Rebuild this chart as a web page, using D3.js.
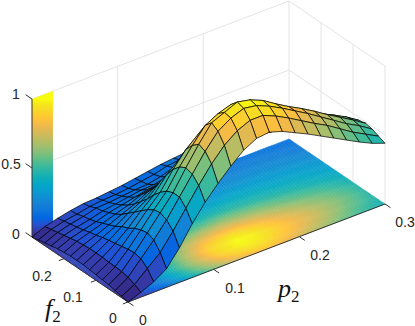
<!DOCTYPE html>
<html>
<head>
<meta charset="utf-8">
<script src="https://cdn.jsdelivr.net/npm/d3@7"></script>
<style>
    html, body { margin: 0; padding: 0; background: #fff; }
    svg { display: block; }
    .tick-label { font-family: "Liberation Sans", sans-serif; font-size: 14px; fill: #262626; text-anchor: middle; }
    .axis-label { font-family: "Liberation Serif", serif; font-style: italic; font-size: 26px; fill: #111; }
    .axis-label tspan { font-style: normal; font-size: 17px; }
</style>
</head>
<body>
<svg id="chart" width="415" height="326"></svg>
<script>
// grid of the mesh
const pValues = [0, 0.015, 0.03, 0.045, 0.06, 0.075, 0.09, 0.105, 0.12, 0.135, 0.15, 0.165, 0.18, 0.195, 0.21, 0.225, 0.24, 0.255, 0.27, 0.285, 0.3];
const fValues = [0, 0.02, 0.04, 0.06, 0.08, 0.1, 0.12, 0.14, 0.16, 0.18, 0.2, 0.22, 0.24, 0.26, 0.28, 0.3];

// heights, one row per p value, running along f
const heights = [
    [0, 0.01, 0.02, 0.03, 0.035, 0.04, 0.045, 0.05, 0.05, 0.05, 0.045, 0.04, 0.03, 0.02, 0.01, 0],
    [0.035, 0.06, 0.08, 0.09, 0.095, 0.095, 0.1, 0.1, 0.1, 0.095, 0.09, 0.08, 0.07, 0.06, 0.05, 0.04],
    [0.075, 0.14, 0.18, 0.19, 0.185, 0.175, 0.165, 0.155, 0.145, 0.13, 0.12, 0.105, 0.095, 0.085, 0.075, 0.065],
    [0.135, 0.22, 0.28, 0.3, 0.29, 0.27, 0.24, 0.22, 0.19, 0.17, 0.15, 0.13, 0.115, 0.105, 0.09, 0.085],
    [0.25, 0.34, 0.39, 0.41, 0.4, 0.37, 0.33, 0.29, 0.25, 0.21, 0.18, 0.16, 0.14, 0.13, 0.11, 0.1],
    [0.39, 0.47, 0.52, 0.52, 0.5, 0.46, 0.41, 0.35, 0.3, 0.25, 0.21, 0.18, 0.155, 0.135, 0.12, 0.105],
    [0.51, 0.6, 0.65, 0.665, 0.64, 0.59, 0.52, 0.44, 0.36, 0.3, 0.25, 0.2, 0.17, 0.145, 0.125, 0.115],
    [0.61, 0.72, 0.78, 0.8, 0.76, 0.7, 0.6, 0.5, 0.4, 0.33, 0.27, 0.22, 0.185, 0.155, 0.135, 0.125],
    [0.7, 0.82, 0.89, 0.92, 0.87, 0.78, 0.66, 0.54, 0.43, 0.35, 0.28, 0.23, 0.19, 0.16, 0.15, 0.14],
    [0.78, 0.89, 0.95, 0.96, 0.92, 0.82, 0.7, 0.57, 0.46, 0.38, 0.31, 0.26, 0.21, 0.18, 0.165, 0.155],
    [0.83, 0.93, 0.985, 1, 0.95, 0.84, 0.72, 0.59, 0.48, 0.4, 0.34, 0.28, 0.24, 0.21, 0.19, 0.17],
    [0.84, 0.93, 0.97, 0.98, 0.93, 0.83, 0.71, 0.6, 0.49, 0.41, 0.35, 0.29, 0.25, 0.22, 0.2, 0.18],
    [0.81, 0.89, 0.93, 0.94, 0.89, 0.8, 0.69, 0.58, 0.49, 0.42, 0.36, 0.31, 0.27, 0.24, 0.21, 0.19],
    [0.765, 0.84, 0.88, 0.88, 0.84, 0.76, 0.66, 0.565, 0.48, 0.42, 0.37, 0.32, 0.28, 0.25, 0.22, 0.2],
    [0.72, 0.785, 0.825, 0.825, 0.785, 0.71, 0.625, 0.545, 0.47, 0.415, 0.365, 0.32, 0.28, 0.25, 0.22, 0.195],
    [0.67, 0.73, 0.77, 0.775, 0.735, 0.67, 0.59, 0.52, 0.455, 0.405, 0.36, 0.32, 0.28, 0.25, 0.22, 0.19],
    [0.62, 0.68, 0.71, 0.72, 0.68, 0.63, 0.56, 0.5, 0.44, 0.39, 0.35, 0.32, 0.28, 0.25, 0.22, 0.19],
    [0.57, 0.62, 0.65, 0.66, 0.635, 0.59, 0.535, 0.475, 0.425, 0.385, 0.345, 0.31, 0.28, 0.25, 0.22, 0.19],
    [0.52, 0.56, 0.59, 0.605, 0.59, 0.555, 0.505, 0.45, 0.405, 0.37, 0.335, 0.305, 0.275, 0.245, 0.215, 0.19],
    [0.475, 0.51, 0.54, 0.55, 0.54, 0.51, 0.47, 0.425, 0.385, 0.35, 0.325, 0.295, 0.265, 0.235, 0.205, 0.185],
    [0.44, 0.46, 0.48, 0.49, 0.48, 0.46, 0.43, 0.4, 0.37, 0.34, 0.31, 0.28, 0.25, 0.22, 0.2, 0.18],
];

const pTicks = [0, 0.1, 0.2, 0.3];
const fTicks = [0, 0.1, 0.2];
const zTicks = [0, 0.5, 1];
const pGrid = [0.1, 0.2, 0.3];
const fGrid = [0, 0.1, 0.2];
const stripWidth = 0.0245; // p width of the colour strip on the back wall

const parula = [
    "#352a87", "#353dad", "#2053d4", "#0268e1", "#0d75dc", "#1481d6", "#108ed2", "#079ccf",
    "#06a7c6", "#0faeb9", "#25b5a9", "#42bb98", "#65be86", "#87bf77", "#a5be6b", "#c0bc60",
    "#d9ba56", "#f1b94a", "#ffc337", "#fad32a", "#f5e41d", "#f9fb0e",
];

const color = d3.scaleLinear()
    .domain(d3.range(parula.length).map((i) => i / (parula.length - 1)))
    .range(parula)
    .clamp(true);

// oblique view: each data axis gets its own screen offset
const pToX = d3.scaleLinear().domain([0, 0.3]).range([0, 257]);
const pToY = d3.scaleLinear().domain([0, 0.3]).range([0, -98]);
const fToX = d3.scaleLinear().domain([0, 0.3]).range([0, -96]);
const fToY = d3.scaleLinear().domain([0, 0.3]).range([0, -65]);
const zToY = d3.scaleLinear().domain([0, 1]).range([0, -138]);
const origin = [128, 302];

const project = (p, f, z) => [
    origin[0] + pToX(p) + fToX(f),
    origin[1] + pToY(p) + fToY(f) + zToY(z),
];
const polyPath = (pts) => "M" + pts.map((q) => q[0].toFixed(2) + "," + q[1].toFixed(2)).join("L") + "Z";

const svg = d3.select("#chart");

// --- walls ---
const walls = svg.append("g").attr("fill", "none").attr("stroke", "#e4e4e4").attr("stroke-width", 1);
const line3d = (sel, a, b) => sel.append("line")
    .attr("x1", project(...a)[0]).attr("y1", project(...a)[1])
    .attr("x2", project(...b)[0]).attr("y2", project(...b)[1]);

zTicks.slice(1).forEach((z) => {
    line3d(walls, [0, 0.3, z], [0.3, 0.3, z]);
    line3d(walls, [0.3, 0.3, z], [0.3, 0, z]);
});
pGrid.forEach((p) => line3d(walls, [p, 0.3, 0], [p, 0.3, 1]));
fGrid.forEach((f) => line3d(walls, [0.3, f, 0], [0.3, f, 1]));

// --- colour strip on the back wall ---
const defs = svg.append("defs");
const start = project(0, 0.3, 0);
const end = project(0, 0.3, 1);
const grad = defs.append("linearGradient")
    .attr("id", "strip")
    .attr("gradientUnits", "userSpaceOnUse")
    .attr("x1", start[0]).attr("y1", start[1])
    .attr("x2", end[0]).attr("y2", end[1]);
parula.forEach((c, i) => {
    grad.append("stop").attr("offset", i / (parula.length - 1)).attr("stop-color", c);
});
svg.append("path")
    .attr("d", polyPath([
        project(0, 0.3, 0),
        project(stripWidth, 0.3, 0),
        project(stripWidth, 0.3, 1),
        project(0, 0.3, 1),
    ]))
    .attr("fill", "url(#strip)");

// --- floor, shaded smoothly from the same heights ---
const floor = svg.append("g");
const steps = 5;
const floorCells = [];
for (let i = 0; i < pValues.length - 1; i++) {
    for (let j = 0; j < fValues.length - 1; j++) {
        for (let a = 0; a < steps; a++) {
            for (let b = 0; b < steps; b++) {
                const u = (a + 0.5) / steps;
                const v = (b + 0.5) / steps;
                const h = (1 - u) * (1 - v) * heights[i][j] + u * (1 - v) * heights[i + 1][j]
                    + (1 - u) * v * heights[i][j + 1] + u * v * heights[i + 1][j + 1];
                const p0 = pValues[i] + (pValues[i + 1] - pValues[i]) * a / steps;
                const p1 = pValues[i] + (pValues[i + 1] - pValues[i]) * (a + 1) / steps;
                const f0 = fValues[j] + (fValues[j + 1] - fValues[j]) * b / steps;
                const f1 = fValues[j] + (fValues[j + 1] - fValues[j]) * (b + 1) / steps;
                floorCells.push({ h, pts: [project(p0, f0, 0), project(p1, f0, 0), project(p1, f1, 0), project(p0, f1, 0)] });
            }
        }
    }
}
floor.selectAll("path").data(floorCells).enter().append("path")
    .attr("d", (d) => polyPath(d.pts))
    .attr("fill", (d) => color(d.h))
    .attr("stroke", (d) => color(d.h))
    .attr("stroke-width", 0.4);

// --- axes ---
const axes = svg.append("g").attr("stroke", "#333").attr("fill", "none").attr("stroke-width", 1);
line3d(axes, [0, 0.3, 0], [0, 0, 0]);
line3d(axes, [0, 0, 0], [0.3, 0, 0]);
line3d(axes, [0, 0.3, 0], [0, 0.3, 1]);
pTicks.forEach((p) => line3d(axes, [p, 0, 0], [p, -0.017, 0]));
fTicks.forEach((f) => line3d(axes, [0, f, 0], [-0.006, f, 0]));
zTicks.forEach((z) => line3d(axes, [0, 0.3, z], [0, 0.32, z]));

// --- surface, back to front ---
const surface = svg.append("g");
const cells = [];
for (let j = fValues.length - 2; j >= 0; j--) {
    for (let i = pValues.length - 2; i >= 0; i--) {
        cells.push({
            h: heights[i][j],
            pts: [
                project(pValues[i], fValues[j], heights[i][j]),
                project(pValues[i + 1], fValues[j], heights[i + 1][j]),
                project(pValues[i + 1], fValues[j + 1], heights[i + 1][j + 1]),
                project(pValues[i], fValues[j + 1], heights[i][j + 1]),
            ],
        });
    }
}
surface.selectAll("path").data(cells).enter().append("path")
    .attr("d", (d) => polyPath(d.pts))
    .attr("fill", (d) => color(d.h))
    .attr("stroke", "#000")
    .attr("stroke-width", 0.7)
    .attr("stroke-linejoin", "round");

// --- labels ---
const labels = svg.append("g");
const label = (x, y, t) => labels.append("text").attr("class", "tick-label").attr("x", x).attr("y", y).text(t);
const pLabelPos = [[143, 324.5], [235, 293], [320, 260], [405, 227]];
const fLabelPos = [[113, 323], [73, 302], [42, 281]];
const zLabelPos = [[16, 239], [11, 169], [16, 99]];
pTicks.forEach((t, i) => label(pLabelPos[i][0], pLabelPos[i][1], String(t)));
fTicks.forEach((t, i) => label(fLabelPos[i][0], fLabelPos[i][1], String(t)));
zTicks.forEach((t, i) => label(zLabelPos[i][0], zLabelPos[i][1], String(t)));

const pName = svg.append("text").attr("class", "axis-label").attr("x", 278).attr("y", 297).text("p");
pName.append("tspan").attr("dy", 5).text("2");
const fName = svg.append("text").attr("class", "axis-label").attr("x", 45).attr("y", 317).text("f");
fName.append("tspan").attr("dy", 5).text("2");
</script>
</body>
</html>
